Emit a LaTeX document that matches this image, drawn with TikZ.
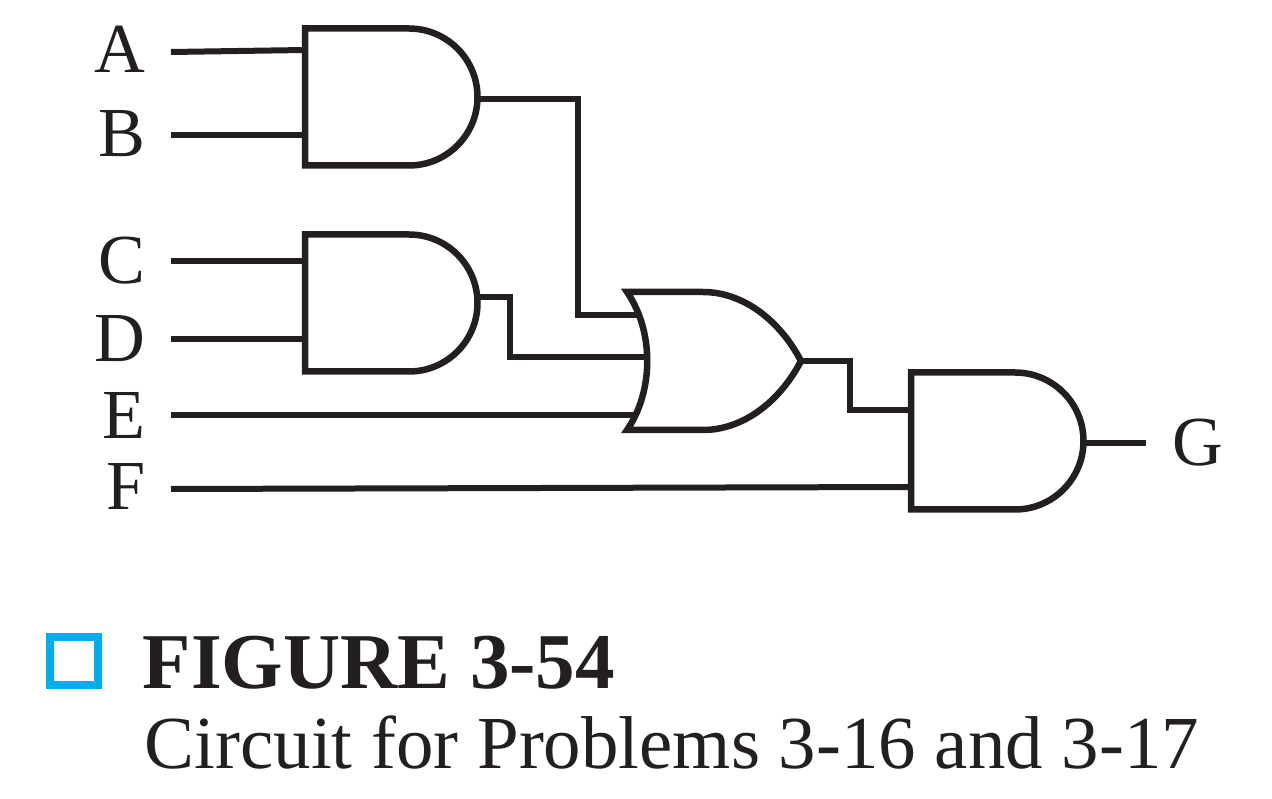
\documentclass[tikz,border=0pt]{standalone}
\usepackage{fontspec}
\setmainfont{Liberation Serif}
\usepackage{color}
\definecolor{figblue}{RGB}{0,174,239}
\definecolor{figink}{RGB}{35,31,32}
\tikzset{
	wire/.style={line width=0.06cm,color=figink},
	gateline/.style={line width=0.065cm,color=figink},
	lblin/.style={anchor=east,inner ysep=0pt,inner xsep=0.25cm,font=\fontsize{20}{20}\selectfont,text=figink},
	lblout/.style={anchor=west,inner ysep=0pt,inner xsep=0.26cm,font=\fontsize{20}{20}\selectfont,text=figink},
	andgate/.pic={
		\draw[gateline,miter limit=10] (0.03,0.685) -- (1.07,0.685) arc (90:-90:0.685) -- (0.03,-0.685) -- cycle;
		\coordinate (-out) at (1.755,0);
	},
	orgate/.pic={
		\draw[gateline,line join=miter] (0,0.69) .. controls (0.27,0.3) and (0.27,-0.3) .. (0,-0.69)
			-- (0.76,-0.69) .. controls (1.15,-0.69) and (1.52,-0.42) .. (1.74,0)
			.. controls (1.52,0.42) and (1.15,0.69) .. (0.76,0.69) -- cycle;
		\coordinate (-out) at (1.74,0);
	},
}
\begin{document}
\begin{tikzpicture}
	\useasboundingbox (0,0) rectangle (12.72,7.99);
	% gates
	\pic (andab) at (3.02,7.02) {andgate};
	\pic (andcd) at (3.02,4.96) {andgate};
	\pic (orgate) at (6.27,4.38) {orgate};
	\pic (andfin) at (9.08,3.58) {andgate};
	% labels
	\node[lblin,text depth=0.05cm] (A) at (1.71,7.47) {A};
	\node[lblin,text depth=0.03cm] (B) at (1.71,6.64) {B};
	\node[lblin] (C) at (1.71,5.38) {C};
	\node[lblin] (D) at (1.71,4.60) {D};
	\node[lblin] (E) at (1.71,3.84) {E};
	\node[lblin,text depth=0.05cm] (F) at (1.71,3.10) {F};
	\node[lblout] (G) at (11.46,3.56) {G};
	% wires
	\coordinate (pina) at (3.05,7.49);
	\coordinate (pinb) at (3.05,6.64);
	\coordinate (pinc) at (3.05,5.38);
	\coordinate (pind) at (3.05,4.60);
	\coordinate (pine) at (6.36,3.84);
	\coordinate (pinf) at (9.11,3.12);
	\coordinate (orup) at (6.38,4.84);
	\coordinate (ormid) at (6.47,4.42);
	\coordinate (finup) at (9.11,3.89);
	\draw[wire] (A.east) -- (pina);
	\draw[wire] (B.east) -- (pinb);
	\draw[wire] (C.east) -- (pinc);
	\draw[wire] (D.east) -- (pind);
	\draw[wire] (E.east) -- (pine);
	\draw[wire] (F.east) -- (pinf);
	\draw[wire] ([yshift=-0.02cm]andab-out) -- (5.78,7.00) -- (5.78,4.84) -- (orup);
	\draw[wire] ([yshift=0.06cm]andcd-out) -- (5.10,5.02) -- (5.10,4.42) -- (ormid);
	\draw[wire] (orgate-out) -- (8.50,4.38) -- (8.50,3.89) -- (finup);
	\draw[wire] (andfin-out |- G.west) -- (G.west);
	% caption
	\node[draw=figblue,line width=0.08cm,minimum size=0.48cm,inner sep=0pt] (mark) at (0.74,1.38) {};
	\node[anchor=base west,inner sep=0pt,font=\fontsize{22.5}{22}\selectfont\bfseries,text=figink] (figno) at (1.42,1.10) {FIGURE 3-54};
	\node[anchor=base west,inner sep=0pt,font=\fontsize{21.3}{22}\selectfont,text=figink] (figcap) at (1.44,0.30) {Circuit for Problems 3-16 and 3-17};
\end{tikzpicture}
\end{document}
